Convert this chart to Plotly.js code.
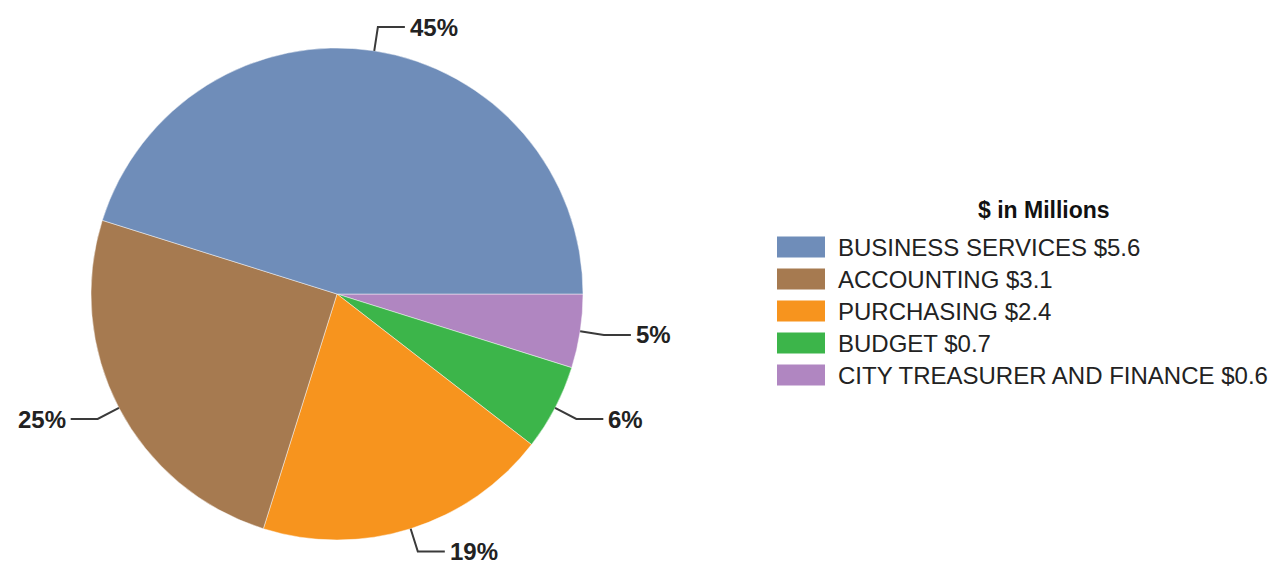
<!DOCTYPE html>
<html>
<head>
<meta charset="utf-8">
<script src="https://cdn.plot.ly/plotly-3.0.1.min.js"></script>
<style>html,body{margin:0;padding:0;background:#fff;}#chart{width:1286px;height:567px;}</style>
</head>
<body>
<div id="chart"></div>
<script>
// ---- data ----
const categories = ["BUSINESS SERVICES", "ACCOUNTING", "PURCHASING", "BUDGET", "CITY TREASURER AND FINANCE"];
const valuesMillions = [5.6, 3.1, 2.4, 0.7, 0.6];
const sliceColors = ["#6f8db9", "#a67a50", "#f7941e", "#3cb54a", "#b086c1"];
const legendTitle = "$ in Millions";

// ---- geometry / style ----
const W = 1286, H = 567;
const cx = 337, cy = 294, R = 246;          // pie centre & radius (px)
const FONT = '"Liberation Sans", Arial, sans-serif';
const px2x = p => p / W;
const py2y = p => 1 - p / H;

const total = valuesMillions.reduce((a, b) => a + b, 0);

// slices run counterclockwise from 3 o'clock in the reference;
// drawn here as the reversed order going clockwise from 3 o'clock
const trace = {
  type: 'pie',
  labels: categories.slice().reverse(),
  values: valuesMillions.slice().reverse(),
  sort: false,
  direction: 'clockwise',
  rotation: 90,
  textinfo: 'none',
  hoverinfo: 'label+value+percent',
  marker: { colors: sliceColors.slice().reverse(), line: { color: 'rgba(255,255,255,0.45)', width: 1 } },
  domain: { x: [px2x(cx - R), px2x(cx + R)], y: [py2y(cy + R), py2y(cy - R)] },
  showlegend: false
};

// leader lines + percentage labels, from the slice mid-angles
const shapes = [];
const annotations = [];
let cum = 0;
const L1 = 24, L2 = 27;
valuesMillions.forEach((v, i) => {
  const frac = v / total;
  const mid = (cum + frac / 2) * 2 * Math.PI;   // ccw from 3 o'clock
  cum += frac;
  const c = Math.cos(mid), s = Math.sin(mid);
  const x0 = cx + R * c, y0 = cy - R * s;
  const x1 = x0 + L1 * c, y1 = y0 - L1 * s;
  const dir = c >= 0 ? 1 : -1;
  const x2 = x1 + dir * L2;
  shapes.push({
    type: 'path', xref: 'paper', yref: 'paper',
    path: `M${px2x(x0)},${py2y(y0)} L${px2x(x1)},${py2y(y1)} L${px2x(x2)},${py2y(y1)}`,
    line: { color: '#3a3a3a', width: 2 }
  });
  annotations.push({
    xref: 'paper', yref: 'paper', x: px2x(x2 + dir * 3), y: py2y(y1),
    xanchor: dir > 0 ? 'left' : 'right', yanchor: 'middle',
    text: '<b>' + Math.round(frac * 100) + '%</b>', showarrow: false,
    font: { family: FONT, size: 24, color: '#222' }
  });
});

// custom legend
const legX = 777, legSw = 48, legH = 21, legY0 = 247, legStep = 32, legTextX = 836;
annotations.push({
  xref: 'paper', yref: 'paper', x: px2x(1044), y: py2y(210),
  xanchor: 'center', yanchor: 'middle', showarrow: false,
  text: '<b>' + legendTitle + '</b>',
  font: { family: FONT, size: 23, color: '#111' }
});
categories.forEach((cat, i) => {
  const yc = legY0 + i * legStep;
  shapes.push({
    type: 'rect', xref: 'paper', yref: 'paper',
    x0: px2x(legX), x1: px2x(legX + legSw),
    y0: py2y(yc + legH / 2), y1: py2y(yc - legH / 2),
    fillcolor: sliceColors[i], line: { width: 0 }
  });
  annotations.push({
    xref: 'paper', yref: 'paper', x: px2x(legTextX), y: py2y(yc),
    xanchor: 'left', yanchor: 'middle', showarrow: false,
    text: cat + ' $' + valuesMillions[i].toFixed(1),
    font: { family: FONT, size: 24, color: '#222' }
  });
});

const layout = {
  width: W, height: H,
  margin: { l: 0, r: 0, t: 0, b: 0 },
  paper_bgcolor: '#fff', plot_bgcolor: '#fff',
  showlegend: false,
  shapes: shapes,
  annotations: annotations,
  font: { family: FONT }
};

Plotly.newPlot('chart', [trace], layout, { displayModeBar: false, staticPlot: true });
</script>
</body>
</html>
